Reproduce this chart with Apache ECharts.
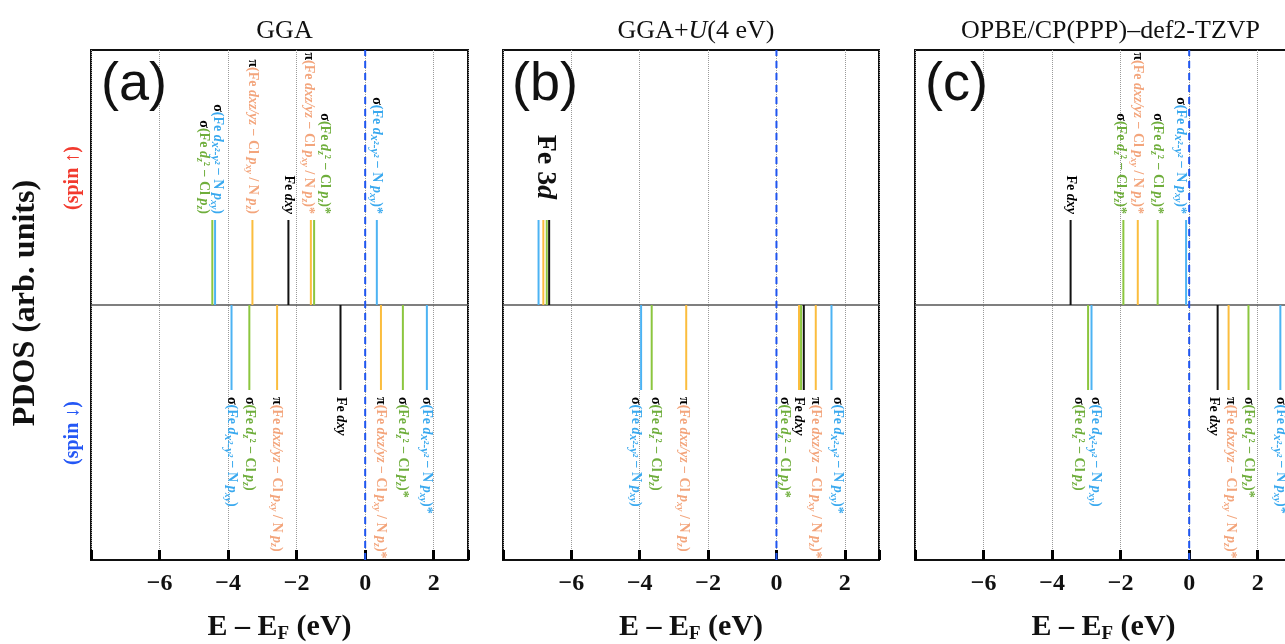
<!DOCTYPE html>
<html><head><meta charset="utf-8">
<script src="https://cdn.jsdelivr.net/npm/echarts@6/dist/echarts.min.js"></script>
<style>html,body{margin:0;padding:0;background:#fff}#c{width:1285px;height:644px}</style>
</head><body><div id="c"></div>
<script>
// ================= DATA =================
const panelTitles = ['GGA', '{n|GGA+}{i|U}{n|(4 eV)}', 'OPBE/CP(PPP)–def2-TZVP'];
const panelTags = ['(a)', '(b)', '(c)'];
const xTickLabels = {'-6': '−6', '-4': '−4', '-2': '−2', '0': '0', '2': '2'};
const peakHeight = 1; // arb. units

// orbital keys: b = σ(Fe dx²-y² – N pxy), g = σ(Fe dz² – Cl pz), o = π(Fe dxz/yz ...), k = Fe dxy
// Panel (a) GGA
const aUpEnergy   = [-4.46, -4.38, -3.29, -2.24, -1.585, -1.49, 0.34];
const aUpOrbital  = ['g', 'b', 'o', 'k', 'o', 'g', 'b'];
const aUpLabel    = ['sigZ', 'sigX', 'pi', 'dxy', 'piS', 'sigZS', 'sigXS'];
const aDownEnergy  = [-3.90, -3.38, -2.57, -0.72, 0.46, 1.10, 1.80];
const aDownOrbital = ['b', 'g', 'o', 'k', 'o', 'g', 'b'];
const aDownLabel   = ['sigX', 'sigZ', 'pi', 'dxy', 'piS', 'sigZS', 'sigXS'];
// Panel (b) GGA+U
const bUpEnergy   = [-6.96, -6.82, -6.72, -6.65];
const bUpOrbital  = ['b', 'o', 'g', 'k'];
const bUpLabel    = ['', '', '', ''];
const bDownEnergy  = [-3.96, -3.65, -2.64, 0.66, 0.72, 0.80, 1.15, 1.61];
const bDownOrbital = ['b', 'g', 'o', 'o', 'g', 'k', 'o', 'b'];
const bDownLabel   = ['sigX', 'sigZ', 'pi', '', 'sigZS', 'dxy', 'piS', 'sigXS'];
// Panel (c) OPBE
const cUpEnergy   = [-3.46, -1.92, -1.50, -0.92, -0.09];
const cUpOrbital  = ['k', 'g', 'o', 'g', 'b'];
const cUpLabel    = ['dxy', 'sigZS', 'piS', 'sigZS', 'sigXS'];
const cDownEnergy  = [-2.95, -2.85, 0.83, 1.15, 1.73, 2.66];
const cDownOrbital = ['g', 'b', 'k', 'o', 'g', 'b'];
const cDownLabel   = ['sigZ', 'sigX', 'dxy', 'piS', 'sigZS', 'sigXS'];

const labelText = {
  sigZ:  '{s|σ}{t|(Fe }{i|d}{sb|z}{t|² − Cl }{i|p}{sb|z}{t|)}',
  sigZS: '{s|σ}{t|(Fe }{i|d}{sb|z}{t|² − Cl }{i|p}{sb|z}{t|)*}',
  sigX:  '{s|σ}{t|(Fe }{i|d}{sx|x²-y²}{t| − N }{i|p}{sb|xy}{t|)}',
  sigXS: '{s|σ}{t|(Fe }{i|d}{sx|x²-y²}{t| − N }{i|p}{sb|xy}{t|)*}',
  pi:    '{s|π}{t|(Fe }{i|dxz/yz}{t| − Cl }{i|p}{sb|xy}{t| / N }{i|p}{sb|z}{t|)}',
  piS:   '{s|π}{t|(Fe }{i|dxz/yz}{t| − Cl }{i|p}{sb|xy}{t| / N }{i|p}{sb|z}{t|)*}',
  dxy:   '{s|Fe }{si|dxy}'
};

// ================= STYLE =================
const SERIF = '"Liberation Serif", "Times New Roman", serif';
const ORB_KEYS = ['b', 'g', 'o', 'k'];
const LINE_COLOR = {b: '#4cb3f3', g: '#8cc63f', o: '#fbbd3e', k: '#111111'};
const LABEL_COLOR = {b: '#3aa9ef', g: '#6fae3c', o: '#f3a57c', k: '#111111'};
const LABEL_KEYS = Object.keys(labelText);
// pixel nudges of label columns (to avoid overlaps), per panel/spin
const labelNudge = {
  aUp: [-9, 3, 0, 0, -2, 10, 0], aDown: [0, 0, 0, 0, 0, 0, 0],
  bUp: [0, 0, 0, 0], bDown: [-5, 4, -3, 0, -16, -5, 0, 6],
  cUp: [0, -3, 0, 0, -5], cDown: [-9, 4, -4, 2, 0, 0]
};
const grids = [
  {left: 91, width: 377},
  {left: 503, width: 376},
  {left: 915, width: 377}
];
const GRID_TOP = 50, GRID_H = 510;

function richFor(col) {
  return {
    s:  {font: 'bold 14px ' + SERIF, fill: '#000', lineHeight: 18},
    si: {font: 'italic bold 14px ' + SERIF, fill: '#000', lineHeight: 18},
    t:  {font: 'bold 14px ' + SERIF, fill: col, lineHeight: 18},
    i:  {font: 'italic bold 14px ' + SERIF, fill: col, lineHeight: 18},
    sb: {font: 'italic bold 10px ' + SERIF, fill: col, lineHeight: 12, verticalAlign: 'bottom'},
    sx: {font: 'italic bold 12px ' + SERIF, fill: col, lineHeight: 15, verticalAlign: 'bottom'}
  };
}

function buildPeaks(energy, orbital, label, sign, nudge) {
  return energy.map((e, i) => [
    e, sign * peakHeight, ORB_KEYS.indexOf(orbital[i]),
    label[i] ? LABEL_KEYS.indexOf(label[i]) : -1, nudge[i]
  ]);
}

const panels = [
  buildPeaks(aUpEnergy, aUpOrbital, aUpLabel, 1, labelNudge.aUp).concat(
    buildPeaks(aDownEnergy, aDownOrbital, aDownLabel, -1, labelNudge.aDown)),
  buildPeaks(bUpEnergy, bUpOrbital, bUpLabel, 1, labelNudge.bUp).concat(
    buildPeaks(bDownEnergy, bDownOrbital, bDownLabel, -1, labelNudge.bDown)),
  buildPeaks(cUpEnergy, cUpOrbital, cUpLabel, 1, labelNudge.cUp).concat(
    buildPeaks(cDownEnergy, cDownOrbital, cDownLabel, -1, labelNudge.cDown))
];

function renderPeak(params, api) {
  const e = api.value(0), h = api.value(1);
  const orb = ORB_KEYS[api.value(2)];
  const li = api.value(3), nudge = api.value(4);
  const p0 = api.coord([e, 0]);
  const p1 = api.coord([e, h]);
  const children = [{
    type: 'line',
    shape: {x1: p0[0], y1: p0[1], x2: p1[0], y2: p1[1]},
    style: {stroke: LINE_COLOR[orb], lineWidth: 2}
  }];
  if (li >= 0) {
    const up = h > 0;
    children.push({
      type: 'text',
      x: p1[0] + nudge,
      y: p1[1] + (up ? -6 : 7),
      rotation: -Math.PI / 2,
      style: {
        text: labelText[LABEL_KEYS[li]],
        rich: richFor(LABEL_COLOR[orb]),
        font: 'bold 14px ' + SERIF,
        fill: LABEL_COLOR[orb],
        align: up ? 'right' : 'left', textAlign: up ? 'right' : 'left',
        verticalAlign: 'middle', textVerticalAlign: 'middle'
      }
    });
  }
  return {type: 'group', children: children};
}

const option = {
  animation: false,
  backgroundColor: '#fff',
  title: panelTitles.map((t, k) => ({
    text: t,
    left: grids[k].left + grids[k].width / 2 + (k === 2 ? 2 : 0),
    top: 13,
    textAlign: 'center',
    textStyle: {
      fontFamily: SERIF, fontSize: 26, fontWeight: 'normal', color: '#111',
      rich: {
        n: {fontFamily: SERIF, fontSize: 26, color: '#111'},
        i: {fontFamily: SERIF, fontSize: 26, fontStyle: 'italic', color: '#111'}
      }
    }
  })),
  grid: grids.map(g => ({
    left: g.left, width: g.width, top: GRID_TOP, height: GRID_H,
    containLabel: false, outerBoundsMode: 'none',
    show: true, borderColor: '#111', borderWidth: 2, backgroundColor: 'rgba(0,0,0,0)'
  })),
  xAxis: grids.map((g, k) => ({
    gridIndex: k, type: 'value', min: -8, max: 3, interval: 2,
    axisLine: {show: true, onZero: false, lineStyle: {color: '#111', width: 2}},
    axisTick: {show: true, inside: true, length: 10, lineStyle: {color: '#000', width: 3}},
    axisLabel: {
      formatter: v => xTickLabels[String(v)] || '',
      fontFamily: SERIF, fontSize: 24, fontWeight: 'bold', color: '#111', margin: 12
    },
    splitLine: {show: true, lineStyle: {type: 'dotted', color: '#9a9a9a', width: 1}},
    name: '{e|E – E}{f|F}{e| (eV)}',
    nameLocation: 'middle', nameGap: 50,
    nameTextStyle: {
      rich: {
        e: {fontFamily: SERIF, fontSize: 30, fontWeight: 'bold', color: '#111', lineHeight: 34},
        f: {fontFamily: SERIF, fontSize: 19, fontWeight: 'bold', color: '#111', lineHeight: 20, verticalAlign: 'bottom'}
      }
    }
  })),
  yAxis: grids.map((g, k) => ({
    gridIndex: k, type: 'value', min: -3, max: 3,
    axisLine: {show: false}, axisTick: {show: false}, axisLabel: {show: false},
    splitLine: {show: false}
  })),
  series: [],
  graphic: {elements: []}
};

panels.forEach((data, k) => {
  option.series.push({
    type: 'line', xAxisIndex: k, yAxisIndex: k, symbol: 'none', silent: true,
    data: [[-8, 0], [3, 0]], lineStyle: {color: '#555', width: 1.5}, z: 2
  });
  option.series.push({
    type: 'custom', xAxisIndex: k, yAxisIndex: k, renderItem: renderPeak,
    encode: {x: 0, y: 1}, data: data, z: 3, clip: false
  });
  option.series.push({
    type: 'line', xAxisIndex: k, yAxisIndex: k, symbol: 'none', silent: true,
    data: [[0, -3], [0, 3]], lineStyle: {color: '#1f55f0', width: 2, type: [7, 5]}, z: 4
  });
});

function txt(x, y, rot, text, font, fill) {
  return {
    type: 'text', x: x, y: y, rotation: rot, z: 10,
    style: {text: text, font: font, fill: fill,
      align: 'center', textAlign: 'center', verticalAlign: 'middle', textVerticalAlign: 'middle'}
  };
}
const G = option.graphic.elements;
G.push(txt(26, 303, Math.PI / 2, 'PDOS (arb. units)', 'bold 32px ' + SERIF, '#111'));
G.push(txt(73, 178, Math.PI / 2, '(spin ↑)', 'bold 20px ' + SERIF, '#f23a2e'));
G.push(txt(73, 433, Math.PI / 2, '(spin ↓)', 'bold 20px ' + SERIF, '#2457f5'));
const tagX = [101, 512, 925];
panelTags.forEach((t, k) => {
  G.push({type: 'text', x: tagX[k], y: 85, z: 10,
    style: {text: t, font: '54px "Liberation Sans", Arial, sans-serif', fill: '#111',
      align: 'left', textAlign: 'left', verticalAlign: 'middle', textVerticalAlign: 'middle'}});
});
G.push({type: 'text', x: 545, y: 167, rotation: -Math.PI / 2, z: 10,
  style: {text: '{b|Fe 3}{bi|d}', font: 'bold 28px ' + SERIF, fill: '#111',
    rich: {b: {font: 'bold 28px ' + SERIF, fill: '#111'}, bi: {font: 'italic bold 28px ' + SERIF, fill: '#111'}},
    align: 'center', textAlign: 'center', verticalAlign: 'middle', textVerticalAlign: 'middle'}});

const chart = echarts.init(document.getElementById('c'), null, {renderer: 'canvas'});
chart.setOption(option);
</script>
</body></html>
